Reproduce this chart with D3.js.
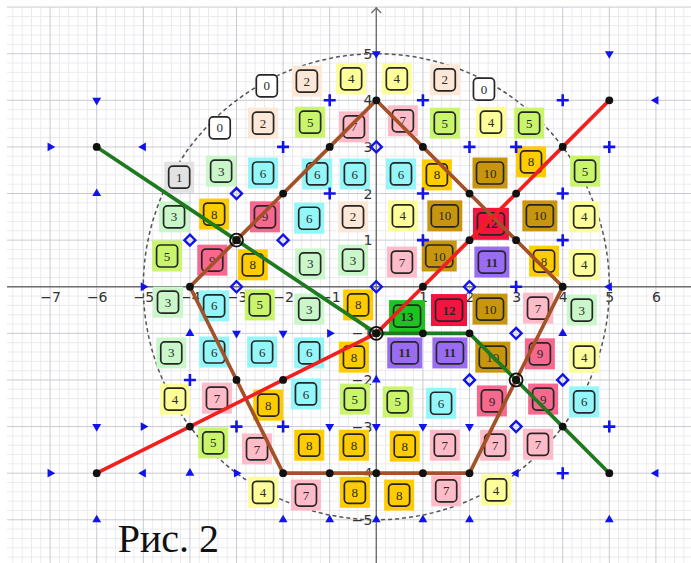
<!DOCTYPE html>
<html><head><meta charset="utf-8">
<script src="https://cdn.jsdelivr.net/npm/d3@7"></script>
<style>body{margin:0;background:#fff} svg{display:block}</style>
</head><body><svg id="c" width="691" height="563"></svg>
<script>
// ---------- data ----------
const xTicks = [-7,-6,-5,-4,-3,-2,-1,1,2,3,4,5,6];
const yTicks = [-5,-4,-3,-2,-1,1,2,3,4,5];
const circleRadius = 5;

// boxes: [x, y, value]
const boxRow1 = [[-2.35,4.31,0],[-1.49,4.41,2],[-0.54,4.46,4],[0.44,4.46,4],[1.47,4.44,2],[2.31,4.24,0]];
const boxRow2 = [[-3.36,3.41,0],[-2.43,3.51,2],[-1.42,3.53,5],[-0.48,3.43,7],[0.57,3.56,7],[1.47,3.51,5],[2.46,3.53,4],[3.28,3.51,5]];
const boxRow3 = [[-4.23,2.35,1],[-3.33,2.48,3],[-2.43,2.44,6],[-1.27,2.42,6],[-0.46,2.42,6],[0.53,2.42,6],[1.30,2.40,8],[2.44,2.44,10],[3.32,2.68,8],[4.48,2.48,5]];
const boxRow4 = [[-4.34,1.50,3],[-3.48,1.56,8],[-2.39,1.50,9],[-1.44,1.47,6],[-0.50,1.50,2],[0.57,1.52,4],[1.47,1.52,10],[2.46,1.35,12],[3.51,1.52,10],[4.46,1.50,4]];
const boxRow5 = [[-4.49,0.66,5],[-3.52,0.57,9],[-2.65,0.47,8],[-1.42,0.49,3],[-0.50,0.57,3],[0.55,0.53,7],[1.35,0.66,10],[2.48,0.53,11],[3.60,0.55,8],[4.46,0.47,4]];
const boxRow6 = [[-4.47,-0.33,3],[-3.48,-0.41,6],[-2.50,-0.39,5],[-1.44,-0.48,3],[-0.39,-0.39,8],[0.66,-0.63,13],[1.56,-0.50,12],[2.44,-0.48,10],[3.47,-0.46,7],[4.41,-0.50,3]];
const boxRow7 = [[-4.40,-1.42,3],[-3.48,-1.40,6],[-2.45,-1.40,6],[-1.44,-1.42,6],[-0.48,-1.51,8],[0.61,-1.42,11],[1.58,-1.42,11],[2.50,-1.51,10],[3.51,-1.44,9],[4.46,-1.51,4]];
const boxRow8 = [[-4.32,-2.41,4],[-3.42,-2.39,7],[-2.32,-2.54,8],[-1.51,-2.30,6],[-0.46,-2.41,5],[0.46,-2.47,5],[1.39,-2.50,6],[2.48,-2.45,9],[3.58,-2.41,9],[4.46,-2.47,6]];
const boxRow9 = [[-3.50,-3.35,5],[-2.56,-3.48,7],[-1.44,-3.40,8],[-0.48,-3.40,8],[0.61,-3.42,8],[1.47,-3.40,7],[2.55,-3.40,7],[3.47,-3.38,7]];
const boxRow10 = [[-2.43,-4.41,4],[-1.51,-4.47,7],[-0.46,-4.41,8],[0.49,-4.47,8],[1.50,-4.38,7],[2.57,-4.36,4]];

const valueColors = ["#ffffff","#e2e2e2","#fde7d6","#c9f7c9","#fdfd9a","#c9f56c","#93f6f8","#ffbcc8","#ffcc00","#f7688f","#c8960e","#9a6cf4","#f5143f","#1cc41c"];

const brownPoly = [[0,4],[1,3],[2,2],[3,1],[4,0],[3,-2],[2,-4],[1,-4],[0,-4],[-1,-4],[-2,-4],[-3,-2],[-4,0],[-3,1],[-2,2],[-1,3],[0,4]];
const redLine = [[-6,-4],[-4,-3],[-2,-2],[0,-1],[1,0],[2,1],[3,2],[4,3],[5,4]];
const greenLine = [[-6,3],[-3,1],[0,-1],[1,-1],[2,-1],[3,-2],[4,-3],[5,-4]];
const circledPts = [[-3,1],[0,-1],[3,-2]];

const plusPts = [[-1,4],[1,4],[4,4],[-2,3],[2,3],[3,3],[5,3],[-1,2],[1,2],[4,2],[1,1],[4,1],[3,0],[-4,-2],[-3,-3],[-2,-3],[5,-3],[4,-4]];
const diamondPts = [[0,3],[-3,2],[-4,1],[-2,1],[-3,0],[0,0],[2,0],[3,-1],[2,-2],[4,-2],[3,-3]];
const triDown = [[-6,4],[0,5],[5,5],[-3,-1],[-2,-1],[-6,-3],[-1,-3],[0,-3],[1,-3],[2,-3]];
const triUp = [[-6,2],[-4,-1],[0,-2],[4,-1],[-6,-5],[-4,-4],[-2,-5],[-1,-5],[0,-5],[1,-5],[2,-5],[5,-5]];
const triRight = [[-7,3],[-5,0],[-1,-1],[-5,-3],[-7,-4],[-3,-4]];
const triLeft = [[-5,3],[6,4],[5,0],[-5,-4],[3,-4],[6,-4]];

const caption = "Рис. 2";

// ---------- drawing ----------
const W = 691, H = 563, L = 7, T = 7;
const svg = d3.select("#c");
const x = d3.scaleLinear().domain([-7.925, 6.753]).range([L, W]);
const y = d3.scaleLinear().domain([6.002, -5.927]).range([T, H]);

// grid
const g = svg.append("g");
const minorX = d3.range(-7.8, 6.8, 0.2).filter(v => Math.abs(v - Math.round(v)) > 0.01);
const minorY = d3.range(-5.8, 6.0, 0.2).filter(v => Math.abs(v - Math.round(v)) > 0.01);
g.selectAll(".mx").data(minorX).join("line").attr("x1", d=>x(d)).attr("x2", d=>x(d)).attr("y1", T).attr("y2", H).attr("stroke", "#ebebef").attr("stroke-width", 1);
g.selectAll(".my").data(minorY).join("line").attr("y1", d=>y(d)).attr("y2", d=>y(d)).attr("x1", L).attr("x2", W).attr("stroke", "#ebebef").attr("stroke-width", 1);
g.selectAll(".MX").data(d3.range(-7, 7)).join("line").attr("x1", d=>x(d)).attr("x2", d=>x(d)).attr("y1", T).attr("y2", H).attr("stroke", "#cacad2").attr("stroke-width", 1);
g.selectAll(".MY").data(d3.range(-5, 7)).join("line").attr("y1", d=>y(d)).attr("y2", d=>y(d)).attr("x1", L).attr("x2", W).attr("stroke", "#cacad2").attr("stroke-width", 1);

// axes lines
svg.append("line").attr("x1", L).attr("x2", W).attr("y1", y(0)).attr("y2", y(0)).attr("stroke", "#707070").attr("stroke-width", 1.4);
svg.append("line").attr("x1", x(0)).attr("x2", x(0)).attr("y1", T).attr("y2", H).attr("stroke", "#707070").attr("stroke-width", 1.4);
svg.append("path").attr("d", `M${x(0)-5},${T+6}L${x(0)},${T+1}L${x(0)+5},${T+6}`).attr("fill","none").attr("stroke","#707070").attr("stroke-width",1.4);

const fmt = d => d < 0 ? "\u2212" + (-d) : String(d);
const ax = svg.append("g").attr("transform", `translate(0,${y(0)})`)
  .call(d3.axisBottom(x).tickValues(xTicks).tickFormat(fmt).tickSize(0).tickPadding(5));
const ay = svg.append("g").attr("transform", `translate(${x(0)},0)`)
  .call(d3.axisLeft(y).tickValues(yTicks).tickFormat(fmt).tickSize(0).tickPadding(4));
[ax, ay].forEach(a => {
  a.select(".domain").remove();
  a.selectAll("text").attr("fill", "#333").style("font-family", "DejaVu Sans, sans-serif").style("font-size", "14px");
});

// dashed circle
svg.append("circle").attr("cx", x(0)).attr("cy", y(0)).attr("r", x(circleRadius) - x(0))
  .attr("fill", "none").attr("stroke", "#555").attr("stroke-width", 1.5).attr("stroke-dasharray", "4,3");

// boxes
const boxes = [].concat(boxRow1, boxRow2, boxRow3, boxRow4, boxRow5, boxRow6, boxRow7, boxRow8, boxRow9, boxRow10);
const bg = svg.append("g").selectAll("g").data(boxes).join("g")
  .attr("transform", d => `translate(${x(d[0])},${y(d[1])})`);
bg.each(function(d) {
  const s = d3.select(this);
  const v = d[2];
  const two = v >= 10;
  const big = v >= 12;
  const ow = big ? 36 : (two ? 35 : 30), oh = big ? 32 : 31;
  const iw = two ? 27 : 21, ih = 22;
  if (v > 0) s.append("rect").attr("x", -ow/2).attr("y", -oh/2).attr("width", ow).attr("height", oh).attr("fill", valueColors[v]);
  s.append("rect").attr("x", -iw/2).attr("y", -ih/2).attr("width", iw).attr("height", ih).attr("rx", 4)
    .attr("fill", v === 0 ? "#fff" : "none").attr("stroke", "#262626").attr("stroke-width", 1.7);
  s.append("text").attr("text-anchor", "middle").attr("dy", "0.35em")
    .style("font-family", "Liberation Serif, serif").style("font-size", "13px")
    .style("font-weight", v >= 11 ? "bold" : "normal")
    .attr("fill", "#2a2a2a").text(v);
});

// lines
const line = d3.line().x(d => x(d[0])).y(d => y(d[1]));
svg.append("path").attr("d", line(brownPoly)).attr("fill", "none").attr("stroke", "#a4512a").attr("stroke-width", 3.7).attr("stroke-linejoin", "round");
svg.append("path").attr("d", line(greenLine)).attr("fill", "none").attr("stroke", "#1e7a1e").attr("stroke-width", 3.7).attr("stroke-linejoin", "round");
svg.append("path").attr("d", line(redLine)).attr("fill", "none").attr("stroke", "#f02020").attr("stroke-width", 3.7).attr("stroke-linejoin", "round");

// blue markers
const blue = "#1212ee";
const mg = svg.append("g");
mg.selectAll(".plus").data(plusPts).join("path")
  .attr("d", d => `M${x(d[0])-6},${y(d[1])}h12M${x(d[0])},${y(d[1])-6}v12`)
  .attr("stroke", blue).attr("stroke-width", 2.6);
mg.selectAll(".dia").data(diamondPts).join("path")
  .attr("d", d => `M${x(d[0])},${y(d[1])-5.5}l5.5,5.5l-5.5,5.5l-5.5,-5.5z`)
  .attr("fill", "none").attr("stroke", blue).attr("stroke-width", 2.4);
const tri = (pts, rot) => mg.selectAll(null).data(pts).join("path")
  .attr("d", d3.symbol().type(d3.symbolTriangle).size(34))
  .attr("transform", d => `translate(${x(d[0])},${y(d[1])}) rotate(${rot})`)
  .attr("fill", blue);
tri(triUp, 0); tri(triDown, 180); tri(triRight, 90); tri(triLeft, -90);

// black dots
const dotPts = [].concat(brownPoly.slice(0, -1), redLine, greenLine);
svg.append("g").selectAll("circle").data(dotPts).join("circle")
  .attr("cx", d => x(d[0])).attr("cy", d => y(d[1])).attr("r", 3.9).attr("fill", "#111");
svg.append("g").selectAll("circle").data(circledPts).join("circle")
  .attr("cx", d => x(d[0])).attr("cy", d => y(d[1])).attr("r", 6.5).attr("fill", "none").attr("stroke", "#111").attr("stroke-width", 1.8);

// caption
svg.append("text").attr("x", x(-5.55)).attr("y", y(-5.7)).text(caption)
  .style("font-family", "Liberation Serif, serif").style("font-size", "40px").attr("fill", "#111");
</script></body></html>
